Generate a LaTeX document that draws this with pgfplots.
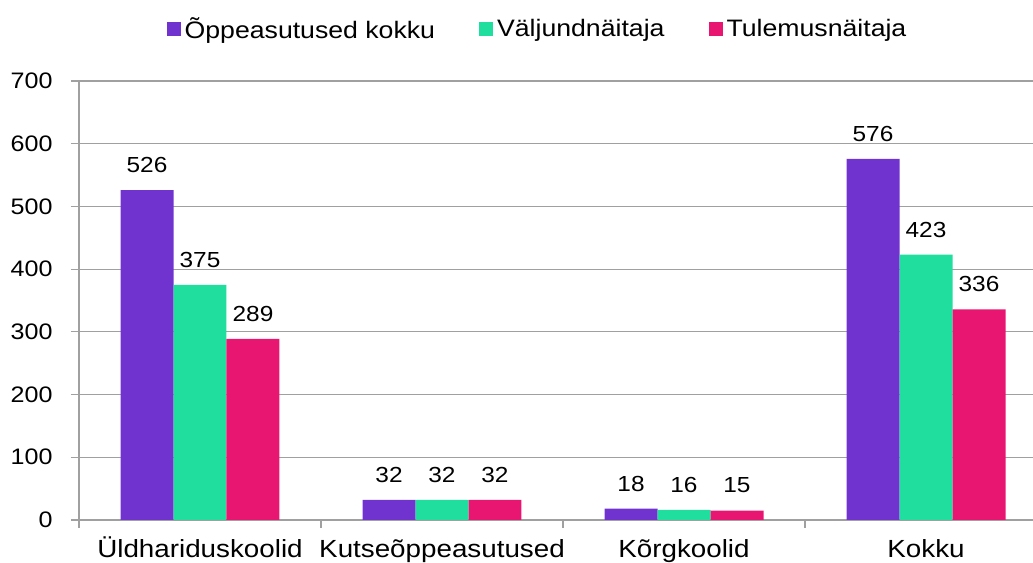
\documentclass[border=0pt]{standalone}
\usepackage{pgfplots}
\pgfplotsset{compat=1.18}
\usepackage{fontspec}
\setmainfont[FakeStretch=1.12]{Liberation Sans}
\definecolor{cA}{RGB}{112,51,208}
\definecolor{cB}{RGB}{31,222,158}
\definecolor{cC}{RGB}{232,22,112}
\definecolor{gridc}{RGB}{160,160,160}
\begin{document}
\begin{tikzpicture}
\begin{axis}[name=ax, scale only axis, width=484pt, height=219.5pt,
  /pgf/number format/assume math mode=true,
  ymin=0, ymax=700, ytick={0,100,...,700},
  xmin=-0.5, xmax=3.5,
  xtick={0,1,2,3},
  xticklabels={Üldhariduskoolid, Kutseõppeasutused, Kõrgkoolid, Kokku},
  minor xtick={-0.5,0.5,1.5,2.5,3.5},
  axis x line*=bottom, axis y line*=left,
  ymajorgrids, grid style={gridc, line width=0.6pt},
  axis line style={gridc, line width=0.6pt},
  tick align=outside, major tick length=4pt, minor tick length=4pt,
  tick style={gridc, line width=0.6pt},
  major x tick style={draw=none},
  ybar, bar width=0.219,
  every tick label/.append style={text=black},
  yticklabel style={font=\fontsize{11.2}{13}\selectfont, anchor=east, inner sep=0pt, xshift=-9pt},
  xticklabel style={font=\fontsize{12.4}{14}\selectfont, anchor=base, yshift=-15pt},
  nodes near coords,
  nodes near coords style={font=\fontsize{10.9}{13}\selectfont, text=black, anchor=south, inner sep=0pt, yshift=8.5pt},
  legend style={at={(0.4747,1.118)}, anchor=center, draw=none, legend columns=-1, font=\fontsize{11.9}{14}\selectfont,
    /tikz/every even column/.append style={column sep=20pt}},
  legend image code/.code={\fill[#1] (0pt,-3.4pt) rectangle (7pt,3.4pt);},
]
\addplot[fill=cA, draw=none, bar shift=-0.219] coordinates {(0,526)(1,32)(2,18)(3,576)};
\addplot[fill=cB, draw=none, bar shift=0] coordinates {(0,375)(1,32)(2,16)(3,423)};
\addplot[fill=cC, draw=none, bar shift=0.219] coordinates {(0,289)(1,32)(2,15)(3,336)};
\legend{Õppeasutused kokku, Väljundnäitaja, Tulemusnäitaja}
\end{axis}
\pgfresetboundingbox
\path[use as bounding box] ([xshift=-39.5pt,yshift=-21pt]ax.south west) rectangle ([xshift=-7pt,yshift=40.5pt]ax.north east);
\end{tikzpicture}
\end{document}
